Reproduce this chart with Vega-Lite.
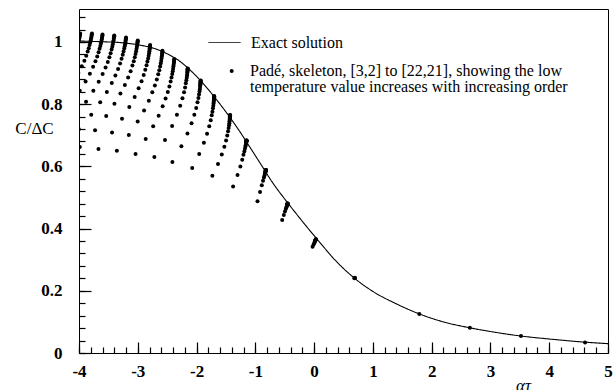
{
"$schema": "https://vega.github.io/schema/vega-lite/v6.json",
"width": 529, "height": 344,
"autosize": {"type": "none"},
"padding": {"left": 79, "top": 9, "right": 7, "bottom": 37},
"background": "white",
"config": {
 "view": {"stroke": "black", "strokeWidth": 1},
 "font": "Liberation Serif",
 "axis": {"domainColor": "black", "tickColor": "black", "tickWidth": 1.2, "labelColor": "black", "titleColor": "black", "grid": false, "labelFont": "Liberation Serif", "labelFontSize": 17, "labelFontWeight": "bold", "titleFont": "Liberation Serif", "titleFontWeight": "normal", "titleFontSize": 17, "labelOverlap": false, "labelFlush": false, "labelBound": false}
},
"resolve": {"axis": {"x": "independent", "y": "independent"}},
"layer": [
 {
  "data": {"values": [
   {"x":-4.0,"y":1.003,"e":"E"},{"x":-3.65,"y":1.001,"e":"E"},{"x":-3.3,"y":0.998,"e":"E"},{"x":-3.0,"y":0.991,"e":"E"},{"x":-2.7,"y":0.978,"e":"E"},{"x":-2.5,"y":0.962,"e":"E"},{"x":-2.3,"y":0.94,"e":"E"},{"x":-2.1,"y":0.908,"e":"E"},{"x":-1.9,"y":0.869,"e":"E"},{"x":-1.7,"y":0.824,"e":"E"},{"x":-1.5,"y":0.775,"e":"E"},{"x":-1.3,"y":0.722,"e":"E"},{"x":-1.1,"y":0.664,"e":"E"},{"x":-0.9,"y":0.605,"e":"E"},{"x":-0.7,"y":0.546,"e":"E"},{"x":-0.5,"y":0.495,"e":"E"},{"x":-0.3,"y":0.447,"e":"E"},{"x":-0.1,"y":0.4,"e":"E"},{"x":0.1,"y":0.355,"e":"E"},{"x":0.35,"y":0.3,"e":"E"},{"x":0.69,"y":0.24,"e":"E"},{"x":1.0,"y":0.198,"e":"E"},{"x":1.4,"y":0.158,"e":"E"},{"x":1.8,"y":0.125,"e":"E"},{"x":2.2,"y":0.1,"e":"E"},{"x":2.65,"y":0.081,"e":"E"},{"x":3.1,"y":0.066,"e":"E"},{"x":3.5,"y":0.055,"e":"E"},{"x":4.0,"y":0.045,"e":"E"},{"x":4.6,"y":0.035,"e":"E"},{"x":5.0,"y":0.03,"e":"E"}
  ]},
  "mark": {"type": "line", "color": "black", "strokeWidth": 1.1, "interpolate": "monotone", "clip": true},
  "encoding": {
   "x": {"field": "x", "type": "quantitative", "scale": {"domain": [-4, 5], "nice": false, "zero": false},
    "axis": {"orient": "bottom", "values": [-4,-3,-2,-1,0,1,2,3,4,5], "offset": -11, "tickSize": 11, "domain": false,
     "labelExpr": "datum.value + ''", "labelPadding": 10,
     "title": "ατ", "titleX": 444, "titleY": 48, "titleBaseline": "alphabetic", "titleAlign": "center", "titleFontStyle": "italic"}},
   "y": {"field": "y", "type": "quantitative", "scale": {"domain": [0, 1.106], "nice": false, "zero": false},
    "axis": {"orient": "left", "values": [0,0.2,0.4,0.6,0.8,1], "offset": -12, "tickSize": 12, "domain": false,
     "labelExpr": "datum.value + ''", "labelPadding": 17,
     "title": "C/ΔC", "titleAngle": 0, "titleX": -57, "titleY": 119, "titleAlign": "center", "titleBaseline": "middle"}},
   "strokeDash": {"field": "e", "type": "nominal", "scale": {"domain": ["E"], "range": [[1, 0]]},
    "legend": {"orient": "none", "legendX": 129, "legendY": 17, "title": null, "padding": 0, "symbolType": "stroke", "symbolSize": 1024,
     "symbolStrokeColor": "black", "symbolStrokeWidth": 1, "symbolDash": [1, 0],
     "labelFont": "Liberation Serif", "labelFontSize": 16, "labelFontWeight": "normal", "labelColor": "black", "labelLimit": 700, "labelOffset": 10,
     "labelExpr": "'Exact solution'"}}
  }
 },
 {
  "data": {"values": [
   {"x":-3.98,"y":1.027,"s":"P"},{"x":-3.983,"y":1.024,"s":"P"},{"x":-3.986,"y":1.02,"s":"P"},{"x":-3.99,"y":1.016,"s":"P"},{"x":-3.995,"y":1.011,"s":"P"},{"x":-4.002,"y":1.005,"s":"P"},{"x":-4.011,"y":0.998,"s":"P"},
   {"x":-3.78,"y":1.027,"s":"P"},{"x":-3.783,"y":1.024,"s":"P"},{"x":-3.786,"y":1.02,"s":"P"},{"x":-3.789,"y":1.016,"s":"P"},{"x":-3.794,"y":1.011,"s":"P"},{"x":-3.801,"y":1.005,"s":"P"},{"x":-3.809,"y":0.998,"s":"P"},{"x":-3.82,"y":0.99,"s":"P"},{"x":-3.834,"y":0.98,"s":"P"},{"x":-3.852,"y":0.969,"s":"P"},{"x":-3.877,"y":0.956,"s":"P"},{"x":-3.909,"y":0.94,"s":"P"},{"x":-3.953,"y":0.922,"s":"P"},{"x":-4.012,"y":0.9,"s":"P"},
   {"x":-3.6,"y":1.024,"s":"P"},{"x":-3.602,"y":1.021,"s":"P"},{"x":-3.605,"y":1.017,"s":"P"},{"x":-3.609,"y":1.013,"s":"P"},{"x":-3.613,"y":1.008,"s":"P"},{"x":-3.619,"y":1.002,"s":"P"},{"x":-3.627,"y":0.995,"s":"P"},{"x":-3.637,"y":0.987,"s":"P"},{"x":-3.65,"y":0.978,"s":"P"},{"x":-3.667,"y":0.967,"s":"P"},{"x":-3.69,"y":0.953,"s":"P"},{"x":-3.72,"y":0.938,"s":"P"},{"x":-3.76,"y":0.92,"s":"P"},{"x":-3.815,"y":0.898,"s":"P"},{"x":-3.888,"y":0.873,"s":"P"},{"x":-3.987,"y":0.843,"s":"P"},
   {"x":-3.4,"y":1.021,"s":"P"},{"x":-3.402,"y":1.018,"s":"P"},{"x":-3.405,"y":1.014,"s":"P"},{"x":-3.408,"y":1.01,"s":"P"},{"x":-3.412,"y":1.005,"s":"P"},{"x":-3.418,"y":1.0,"s":"P"},{"x":-3.425,"y":0.993,"s":"P"},{"x":-3.434,"y":0.985,"s":"P"},{"x":-3.446,"y":0.976,"s":"P"},{"x":-3.462,"y":0.964,"s":"P"},{"x":-3.483,"y":0.951,"s":"P"},{"x":-3.51,"y":0.936,"s":"P"},{"x":-3.548,"y":0.918,"s":"P"},{"x":-3.598,"y":0.897,"s":"P"},{"x":-3.665,"y":0.872,"s":"P"},{"x":-3.756,"y":0.843,"s":"P"},{"x":-3.88,"y":0.808,"s":"P"},
   {"x":-3.2,"y":1.014,"s":"P"},{"x":-3.202,"y":1.011,"s":"P"},{"x":-3.204,"y":1.008,"s":"P"},{"x":-3.207,"y":1.004,"s":"P"},{"x":-3.211,"y":0.999,"s":"P"},{"x":-3.216,"y":0.993,"s":"P"},{"x":-3.223,"y":0.986,"s":"P"},{"x":-3.231,"y":0.979,"s":"P"},{"x":-3.242,"y":0.969,"s":"P"},{"x":-3.256,"y":0.959,"s":"P"},{"x":-3.276,"y":0.946,"s":"P"},{"x":-3.301,"y":0.931,"s":"P"},{"x":-3.335,"y":0.913,"s":"P"},{"x":-3.381,"y":0.892,"s":"P"},{"x":-3.442,"y":0.868,"s":"P"},{"x":-3.526,"y":0.839,"s":"P"},{"x":-3.639,"y":0.806,"s":"P"},{"x":-3.792,"y":0.766,"s":"P"},{"x":-4.002,"y":0.719,"s":"P"},
   {"x":-3.0,"y":1.005,"s":"P"},{"x":-3.002,"y":1.002,"s":"P"},{"x":-3.004,"y":0.999,"s":"P"},{"x":-3.007,"y":0.995,"s":"P"},{"x":-3.01,"y":0.99,"s":"P"},{"x":-3.015,"y":0.985,"s":"P"},{"x":-3.021,"y":0.978,"s":"P"},{"x":-3.028,"y":0.97,"s":"P"},{"x":-3.038,"y":0.961,"s":"P"},{"x":-3.051,"y":0.951,"s":"P"},{"x":-3.068,"y":0.938,"s":"P"},{"x":-3.091,"y":0.924,"s":"P"},{"x":-3.122,"y":0.906,"s":"P"},{"x":-3.164,"y":0.886,"s":"P"},{"x":-3.22,"y":0.862,"s":"P"},{"x":-3.295,"y":0.834,"s":"P"},{"x":-3.397,"y":0.801,"s":"P"},{"x":-3.537,"y":0.762,"s":"P"},{"x":-3.727,"y":0.716,"s":"P"},{"x":-3.986,"y":0.662,"s":"P"},
   {"x":-2.79,"y":0.99,"s":"P"},{"x":-2.792,"y":0.987,"s":"P"},{"x":-2.794,"y":0.984,"s":"P"},{"x":-2.796,"y":0.98,"s":"P"},{"x":-2.799,"y":0.975,"s":"P"},{"x":-2.803,"y":0.97,"s":"P"},{"x":-2.808,"y":0.964,"s":"P"},{"x":-2.815,"y":0.956,"s":"P"},{"x":-2.824,"y":0.947,"s":"P"},{"x":-2.836,"y":0.937,"s":"P"},{"x":-2.851,"y":0.925,"s":"P"},{"x":-2.872,"y":0.911,"s":"P"},{"x":-2.899,"y":0.894,"s":"P"},{"x":-2.936,"y":0.874,"s":"P"},{"x":-2.986,"y":0.851,"s":"P"},{"x":-3.053,"y":0.823,"s":"P"},{"x":-3.144,"y":0.791,"s":"P"},{"x":-3.268,"y":0.753,"s":"P"},{"x":-3.438,"y":0.709,"s":"P"},{"x":-3.669,"y":0.656,"s":"P"},
   {"x":-2.58,"y":0.972,"s":"P"},{"x":-2.581,"y":0.969,"s":"P"},{"x":-2.583,"y":0.966,"s":"P"},{"x":-2.585,"y":0.962,"s":"P"},{"x":-2.588,"y":0.958,"s":"P"},{"x":-2.592,"y":0.953,"s":"P"},{"x":-2.596,"y":0.947,"s":"P"},{"x":-2.602,"y":0.939,"s":"P"},{"x":-2.61,"y":0.931,"s":"P"},{"x":-2.62,"y":0.921,"s":"P"},{"x":-2.634,"y":0.909,"s":"P"},{"x":-2.652,"y":0.896,"s":"P"},{"x":-2.676,"y":0.879,"s":"P"},{"x":-2.709,"y":0.86,"s":"P"},{"x":-2.753,"y":0.838,"s":"P"},{"x":-2.812,"y":0.811,"s":"P"},{"x":-2.893,"y":0.78,"s":"P"},{"x":-3.002,"y":0.744,"s":"P"},{"x":-3.152,"y":0.701,"s":"P"},{"x":-3.356,"y":0.65,"s":"P"},
   {"x":-2.38,"y":0.945,"s":"P"},{"x":-2.381,"y":0.942,"s":"P"},{"x":-2.383,"y":0.939,"s":"P"},{"x":-2.384,"y":0.936,"s":"P"},{"x":-2.387,"y":0.932,"s":"P"},{"x":-2.39,"y":0.927,"s":"P"},{"x":-2.394,"y":0.921,"s":"P"},{"x":-2.399,"y":0.914,"s":"P"},{"x":-2.405,"y":0.906,"s":"P"},{"x":-2.414,"y":0.897,"s":"P"},{"x":-2.426,"y":0.886,"s":"P"},{"x":-2.441,"y":0.873,"s":"P"},{"x":-2.462,"y":0.857,"s":"P"},{"x":-2.489,"y":0.839,"s":"P"},{"x":-2.527,"y":0.818,"s":"P"},{"x":-2.577,"y":0.793,"s":"P"},{"x":-2.645,"y":0.763,"s":"P"},{"x":-2.738,"y":0.729,"s":"P"},{"x":-2.865,"y":0.688,"s":"P"},{"x":-3.038,"y":0.64,"s":"P"},
   {"x":-2.15,"y":0.915,"s":"P"},{"x":-2.151,"y":0.914,"s":"P"},{"x":-2.151,"y":0.912,"s":"P"},{"x":-2.152,"y":0.91,"s":"P"},{"x":-2.153,"y":0.908,"s":"P"},{"x":-2.155,"y":0.905,"s":"P"},{"x":-2.156,"y":0.902,"s":"P"},{"x":-2.159,"y":0.897,"s":"P"},{"x":-2.162,"y":0.892,"s":"P"},{"x":-2.167,"y":0.885,"s":"P"},{"x":-2.174,"y":0.877,"s":"P"},{"x":-2.183,"y":0.867,"s":"P"},{"x":-2.195,"y":0.854,"s":"P"},{"x":-2.213,"y":0.838,"s":"P"},{"x":-2.24,"y":0.819,"s":"P"},{"x":-2.278,"y":0.795,"s":"P"},{"x":-2.334,"y":0.766,"s":"P"},{"x":-2.416,"y":0.73,"s":"P"},{"x":-2.537,"y":0.685,"s":"P"},{"x":-2.718,"y":0.63,"s":"P"},
   {"x":-1.93,"y":0.876,"s":"P"},{"x":-1.93,"y":0.875,"s":"P"},{"x":-1.931,"y":0.873,"s":"P"},{"x":-1.932,"y":0.872,"s":"P"},{"x":-1.933,"y":0.87,"s":"P"},{"x":-1.934,"y":0.867,"s":"P"},{"x":-1.935,"y":0.864,"s":"P"},{"x":-1.938,"y":0.86,"s":"P"},{"x":-1.941,"y":0.855,"s":"P"},{"x":-1.944,"y":0.848,"s":"P"},{"x":-1.95,"y":0.841,"s":"P"},{"x":-1.958,"y":0.831,"s":"P"},{"x":-1.968,"y":0.82,"s":"P"},{"x":-1.984,"y":0.806,"s":"P"},{"x":-2.006,"y":0.788,"s":"P"},{"x":-2.038,"y":0.766,"s":"P"},{"x":-2.085,"y":0.739,"s":"P"},{"x":-2.155,"y":0.706,"s":"P"},{"x":-2.258,"y":0.665,"s":"P"},{"x":-2.411,"y":0.614,"s":"P"},
   {"x":-1.7,"y":0.826,"s":"P"},{"x":-1.7,"y":0.825,"s":"P"},{"x":-1.701,"y":0.824,"s":"P"},{"x":-1.701,"y":0.822,"s":"P"},{"x":-1.702,"y":0.82,"s":"P"},{"x":-1.703,"y":0.818,"s":"P"},{"x":-1.704,"y":0.815,"s":"P"},{"x":-1.706,"y":0.812,"s":"P"},{"x":-1.708,"y":0.807,"s":"P"},{"x":-1.711,"y":0.802,"s":"P"},{"x":-1.715,"y":0.795,"s":"P"},{"x":-1.721,"y":0.787,"s":"P"},{"x":-1.73,"y":0.776,"s":"P"},{"x":-1.742,"y":0.764,"s":"P"},{"x":-1.759,"y":0.748,"s":"P"},{"x":-1.784,"y":0.729,"s":"P"},{"x":-1.821,"y":0.705,"s":"P"},{"x":-1.875,"y":0.676,"s":"P"},{"x":-1.955,"y":0.64,"s":"P"},{"x":-2.074,"y":0.595,"s":"P"},
   {"x":-1.43,"y":0.765,"s":"P"},{"x":-1.43,"y":0.764,"s":"P"},{"x":-1.431,"y":0.763,"s":"P"},{"x":-1.431,"y":0.762,"s":"P"},{"x":-1.432,"y":0.76,"s":"P"},{"x":-1.432,"y":0.758,"s":"P"},{"x":-1.433,"y":0.756,"s":"P"},{"x":-1.435,"y":0.753,"s":"P"},{"x":-1.437,"y":0.749,"s":"P"},{"x":-1.439,"y":0.745,"s":"P"},{"x":-1.442,"y":0.739,"s":"P"},{"x":-1.447,"y":0.732,"s":"P"},{"x":-1.454,"y":0.723,"s":"P"},{"x":-1.464,"y":0.713,"s":"P"},{"x":-1.478,"y":0.699,"s":"P"},{"x":-1.498,"y":0.683,"s":"P"},{"x":-1.527,"y":0.663,"s":"P"},{"x":-1.571,"y":0.638,"s":"P"},{"x":-1.635,"y":0.608,"s":"P"},{"x":-1.731,"y":0.57,"s":"P"},
   {"x":-1.15,"y":0.683,"s":"P"},{"x":-1.15,"y":0.683,"s":"P"},{"x":-1.15,"y":0.683,"s":"P"},{"x":-1.15,"y":0.682,"s":"P"},{"x":-1.151,"y":0.682,"s":"P"},{"x":-1.152,"y":0.681,"s":"P"},{"x":-1.153,"y":0.68,"s":"P"},{"x":-1.154,"y":0.679,"s":"P"},{"x":-1.155,"y":0.677,"s":"P"},{"x":-1.157,"y":0.675,"s":"P"},{"x":-1.16,"y":0.672,"s":"P"},{"x":-1.164,"y":0.669,"s":"P"},{"x":-1.169,"y":0.664,"s":"P"},{"x":-1.177,"y":0.657,"s":"P"},{"x":-1.187,"y":0.648,"s":"P"},{"x":-1.202,"y":0.637,"s":"P"},{"x":-1.223,"y":0.621,"s":"P"},{"x":-1.255,"y":0.6,"s":"P"},{"x":-1.303,"y":0.572,"s":"P"},{"x":-1.378,"y":0.535,"s":"P"},
   {"x":-0.82,"y":0.588,"s":"P"},{"x":-0.82,"y":0.588,"s":"P"},{"x":-0.821,"y":0.588,"s":"P"},{"x":-0.821,"y":0.587,"s":"P"},{"x":-0.822,"y":0.587,"s":"P"},{"x":-0.823,"y":0.586,"s":"P"},{"x":-0.824,"y":0.585,"s":"P"},{"x":-0.826,"y":0.584,"s":"P"},{"x":-0.828,"y":0.582,"s":"P"},{"x":-0.832,"y":0.58,"s":"P"},{"x":-0.837,"y":0.576,"s":"P"},{"x":-0.844,"y":0.571,"s":"P"},{"x":-0.854,"y":0.564,"s":"P"},{"x":-0.869,"y":0.554,"s":"P"},{"x":-0.89,"y":0.539,"s":"P"},{"x":-0.92,"y":0.518,"s":"P"},{"x":-0.963,"y":0.488,"s":"P"},
   {"x":-0.45,"y":0.481,"s":"P"},{"x":-0.451,"y":0.481,"s":"P"},{"x":-0.452,"y":0.48,"s":"P"},{"x":-0.453,"y":0.48,"s":"P"},{"x":-0.454,"y":0.479,"s":"P"},{"x":-0.455,"y":0.478,"s":"P"},{"x":-0.458,"y":0.477,"s":"P"},{"x":-0.461,"y":0.475,"s":"P"},{"x":-0.466,"y":0.472,"s":"P"},{"x":-0.472,"y":0.468,"s":"P"},{"x":-0.482,"y":0.463,"s":"P"},{"x":-0.496,"y":0.455,"s":"P"},{"x":-0.515,"y":0.444,"s":"P"},{"x":-0.543,"y":0.428,"s":"P"},
   {"x":0.03,"y":0.366,"s":"P"},{"x":0.029,"y":0.366,"s":"P"},{"x":0.028,"y":0.365,"s":"P"},{"x":0.026,"y":0.364,"s":"P"},{"x":0.024,"y":0.363,"s":"P"},{"x":0.021,"y":0.362,"s":"P"},{"x":0.017,"y":0.36,"s":"P"},{"x":0.011,"y":0.358,"s":"P"},{"x":0.003,"y":0.354,"s":"P"},{"x":-0.009,"y":0.349,"s":"P"},{"x":-0.026,"y":0.342,"s":"P"},
   {"x":0.685,"y":0.24,"s":"P"},{"x":0.69,"y":0.241,"s":"P"},{"x":0.695,"y":0.242,"s":"P"},{"x":1.79,"y":0.125,"s":"P"},{"x":2.65,"y":0.081,"s":"P"},{"x":3.52,"y":0.055,"s":"P"},{"x":4.61,"y":0.034,"s":"P"}
  ]},
  "mark": {"type": "point", "filled": true, "size": 16, "color": "black", "opacity": 1, "clip": true},
  "encoding": {
   "x": {"field": "x", "type": "quantitative",
    "axis": {"orient": "bottom", "values": [-4,-3.8,-3.6,-3.4,-3.2,-3,-2.8,-2.6,-2.4,-2.2,-2,-1.8,-1.6,-1.4,-1.2,-1,-0.8,-0.6,-0.4,-0.2,0,0.2,0.4,0.6,0.8,1,1.2,1.4,1.6,1.8,2,2.2,2.4,2.6,2.8,3,3.2,3.4,3.6,3.8,4,4.2,4.4,4.6,4.8,5],
     "offset": -6, "tickSize": 6, "domain": false, "labels": false, "title": null}},
   "y": {"field": "y", "type": "quantitative",
    "axis": {"orient": "left", "values": [0,0.04,0.08,0.12,0.16,0.2,0.24,0.28,0.32,0.36,0.4,0.44,0.48,0.52,0.56,0.6,0.64,0.68,0.72,0.76,0.8,0.84,0.88,0.92,0.96,1,1.04,1.08],
     "offset": -6, "tickSize": 6, "domain": false, "labels": false, "title": null}},
   "shape": {"field": "s", "type": "nominal", "scale": {"domain": ["P", "Q"], "range": ["circle", "M0,0"]},
    "legend": {"orient": "none", "legendX": 144.7, "legendY": 54, "title": null, "padding": 0, "symbolSize": 16, "rowPadding": 0,
     "symbolFillColor": "black", "symbolStrokeWidth": 0, "symbolOpacity": 1,
     "labelFont": "Liberation Serif", "labelFontSize": 16, "labelFontWeight": "normal", "labelColor": "black", "labelLimit": 700, "labelOffset": 10.3,
     "labelExpr": "datum.value == 'P' ? 'Padé, skeleton, [3,2] to [22,21], showing the low' : 'temperature value increases with increasing order'",
     "encode": {"labels": {"update": {"dy": {"signal": "datum.value == 'Q' ? -1.5 : 0"}}}}}}
  }
 }
]
}
